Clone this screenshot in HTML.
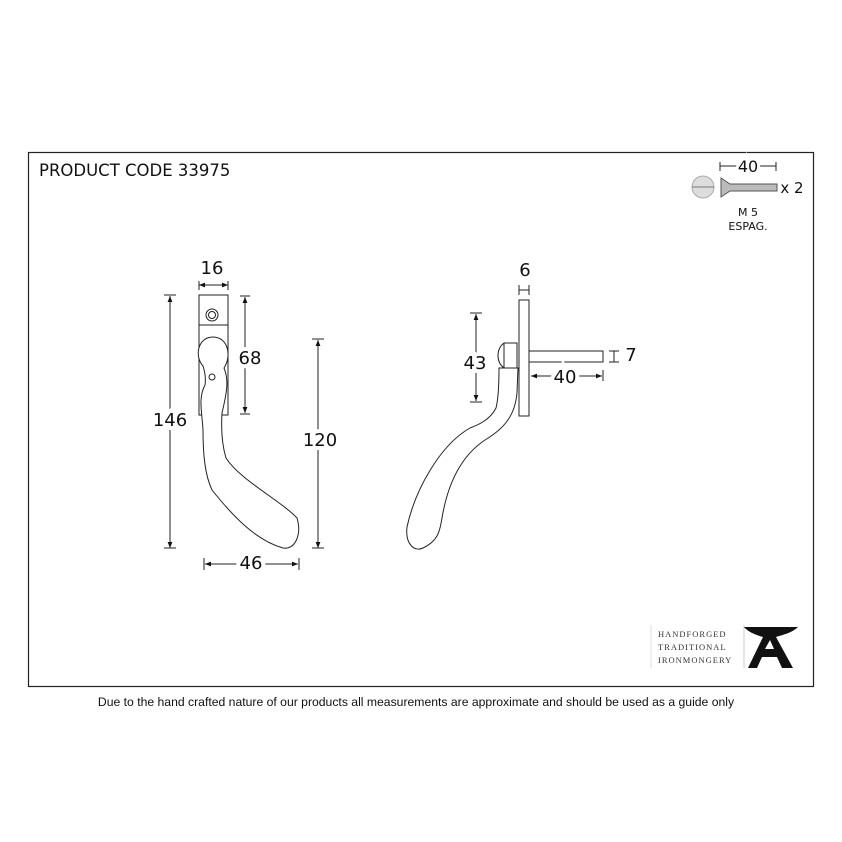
<!DOCTYPE html><html><head><style>body{margin:0;background:#fff}svg{display:block}text{font-family:"DejaVu Sans","Liberation Sans",sans-serif;fill:#111}</style></head><body>
<svg width="842" height="842" viewBox="0 0 842 842">
<defs><marker id="a" viewBox="0 0 10 10" refX="10" refY="5" markerWidth="6" markerHeight="6" orient="auto-start-reverse"><path d="M0,1L10,5L0,9z" fill="#111"/></marker></defs>
<rect x="28.5" y="152.5" width="785" height="534" fill="none" stroke="#222" stroke-width="1.2"/>
<text x="39" y="176" font-size="16.5">PRODUCT CODE 33975</text>
<g stroke="#222" stroke-width="1" fill="none">
<rect x="199" y="295" width="29" height="120" fill="#fff"/>
<line x1="199" y1="325" x2="228" y2="325"/>
<circle cx="212" cy="315" r="6"/><circle cx="212" cy="315" r="3.5"/>
<path d="M203,366 C194,356 198,337 213,337 C228,337 232,356 224,368 C229,380 227,392 222,413 C221,430 222,445 226,458 C240,480 280,500 297,518 C302,535 295,550 283,548 C255,540 232,515 212,490 C205,475 203,455 203,430 C202,412 198,398 205,385 C206,378 205,372 203,366Z" fill="#fff"/>
<circle cx="212" cy="377" r="3"/>
<line x1="212" y1="285" x2="199" y2="285" marker-end="url(#a)"/><line x1="212" y1="285" x2="228" y2="285" marker-end="url(#a)"/>
<line x1="199" y1="281" x2="199" y2="290"/><line x1="228" y1="281" x2="228" y2="290"/>
<line x1="170" y1="296" x2="170" y2="548" marker-start="url(#a)" marker-end="url(#a)"/>
<line x1="164" y1="295" x2="176" y2="295"/><line x1="164" y1="548" x2="176" y2="548"/>
<line x1="245" y1="297" x2="245" y2="413" marker-start="url(#a)" marker-end="url(#a)"/>
<line x1="240" y1="296" x2="250" y2="296"/><line x1="240" y1="414" x2="250" y2="414"/>
<line x1="318" y1="340" x2="318" y2="548" marker-start="url(#a)" marker-end="url(#a)"/>
<line x1="312" y1="339" x2="324" y2="339"/><line x1="312" y1="548" x2="324" y2="548"/>
<line x1="205" y1="564" x2="298" y2="564" marker-start="url(#a)" marker-end="url(#a)"/>
<line x1="204" y1="558" x2="204" y2="570"/><line x1="299" y1="558" x2="299" y2="570"/>
<path d="M499,368 C499,385 498,400 496,408 C490,420 478,425 470,428 C440,445 415,490 407,527 C405,545 415,552 423,548 C440,540 440,528 442,518 C450,470 470,450 485,440 C505,428 515,415 517,393 L518,368Z" fill="#fff"/>
<path d="M504,343 L517,343 L517,368 L504,368 C496,362 496,349 504,343Z" fill="#fff"/>
<line x1="504" y1="343" x2="504" y2="368"/>
<rect x="519" y="300" width="10" height="116" fill="#fff"/>
<rect x="529" y="351" width="74" height="11" fill="#fff"/>
<line x1="476" y1="314" x2="476" y2="401" marker-start="url(#a)" marker-end="url(#a)"/>
<line x1="470" y1="313" x2="482" y2="313"/><line x1="470" y1="402" x2="482" y2="402"/>
<line x1="519" y1="285" x2="519" y2="295"/><line x1="529" y1="285" x2="529" y2="295"/><line x1="519" y1="290" x2="529" y2="290"/>
<line x1="614" y1="351" x2="614" y2="362"/><line x1="609" y1="351" x2="619" y2="351"/><line x1="609" y1="362" x2="619" y2="362"/>
<line x1="531" y1="376" x2="602" y2="376" marker-start="url(#a)" marker-end="url(#a)"/>
<line x1="603" y1="370" x2="603" y2="381"/>
<line x1="720" y1="166" x2="776" y2="166"/><line x1="720" y1="162" x2="720" y2="171"/><line x1="776" y1="162" x2="776" y2="171"/>
<circle cx="703" cy="187" r="11" fill="#ddd" stroke="#aaa"/>
<line x1="692" y1="187" x2="714" y2="187" stroke="#777"/>
<path d="M721,178 L730,184 L777,184 L777,191 L730,191 L721,197Z" fill="#bbb" stroke="#555"/>
<line x1="744" y1="625" x2="744" y2="668" stroke="#ccc"/>
<line x1="651" y1="625" x2="651" y2="668" stroke="#ddd"/>
</g>
<g font-size="18" text-anchor="middle">
<text x="212" y="274">16</text>
<text x="170" y="426" style="paint-order:stroke" stroke="#fff" stroke-width="8">146</text>
<text x="250" y="364" style="paint-order:stroke" stroke="#fff" stroke-width="8">68</text>
<text x="320" y="446" style="paint-order:stroke" stroke="#fff" stroke-width="8">120</text>
<text x="251" y="569" style="paint-order:stroke" stroke="#fff" stroke-width="8">46</text>
<text x="475" y="369" style="paint-order:stroke" stroke="#fff" stroke-width="8">43</text>
<text x="525" y="276">6</text>
<text x="631" y="361">7</text>
<text x="565" y="383" style="paint-order:stroke" stroke="#fff" stroke-width="8">40</text>
</g>
<text x="748" y="172" font-size="16" text-anchor="middle" style="paint-order:stroke" stroke="#fff" stroke-width="6">40</text>
<text x="792" y="193" font-size="15" text-anchor="middle">x 2</text>
<text x="748" y="216" font-size="11" text-anchor="middle">M 5</text>
<text x="748" y="230" font-size="11" text-anchor="middle">ESPAG.</text>
<g font-size="8.5" letter-spacing="1">
<text x="658" y="637" style="font-family:'Liberation Serif',serif;fill:#333">HANDFORGED</text>
<text x="658" y="650" style="font-family:'Liberation Serif',serif;fill:#333">TRADITIONAL</text>
<text x="658" y="663" style="font-family:'Liberation Serif',serif;fill:#333">IRONMONGERY</text>
</g>
<path d="M744,627 L798,627 C792,633 782,635 776,637 L793,668 L782,668 L777,657 L762,657 L757,668 L748,668 L763,637 C756,635 748,632 744,627Z M765,649 L774,649 L770,640Z" fill="#111" fill-rule="evenodd"/>
<text x="416" y="706" font-size="12.2" text-anchor="middle" style="font-family:'Liberation Sans',sans-serif">Due to the hand crafted nature of our products all measurements are approximate and should be used as a guide only</text>
</svg></body></html>
